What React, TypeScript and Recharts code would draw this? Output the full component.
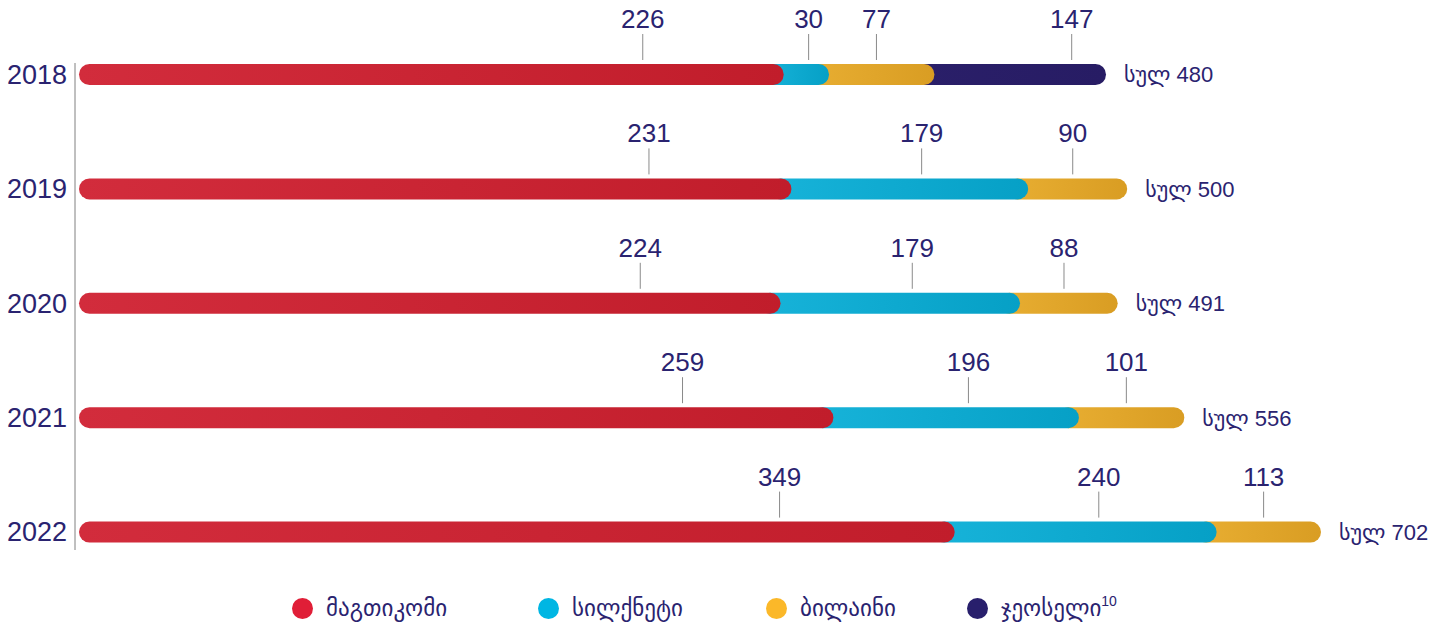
import React from 'react';
import { BarChart, Bar, XAxis, YAxis, Legend } from 'recharts';

// ---- data ----
const years = ['2018', '2019', '2020', '2021', '2022'];
const magticom = [226, 231, 224, 259, 349];
const silknet = [30, 179, 179, 196, 240];
const beeline = [77, 90, 88, 101, 113];
const geocell: (number | null)[] = [147, null, null, null, null];
const totals = [480, 500, 491, 556, 702];
const seriesKeys = ['magticom', 'silknet', 'beeline', 'geocell'];
const seriesNames = ['მაგთიკომი', 'სილქნეტი', 'ბილაინი', 'ჯეოსელი'];
const seriesNotes = ['', '', '', '10'];
const totalPrefix = 'სულ';

const seriesValues = [magticom, silknet, beeline, geocell];

const data = years.map((year, i) => ({
  year,
  magticom: magticom[i],
  silknet: silknet[i],
  beeline: beeline[i],
  geocell: geocell[i],
  total: totals[i],
}));

// ---- style ----
const FONT = "'Liberation Sans', Arial, Helvetica, 'DejaVu Sans', sans-serif";
const NAVY = '#2a2370';
const gradStops = [
  ['#d22c3c', '#c11d2b'],
  ['#17b3d9', '#06a0c6'],
  ['#e8ae32', '#d99d23'],
  ['#2a1f69', '#271c64'],
];
const legendColors = ['#e01e37', '#00b6e3', '#fbb829', '#281f6c'];
const labelFrac = [0.8, 0.55, 0.45, 0.8];
const legendItemWidths = [246, 228, 201, 170];

const lastSeriesIndex = (row: number) => {
  let last = 0;
  seriesValues.forEach((vals, si) => {
    if (vals[row] != null) last = si;
  });
  return last;
};

const makeShape = (si: number) => (props: any) => {
  const { x, y, width, height, index } = props;
  const value = seriesValues[si][index];
  if (value == null || !(width > 0)) return <g />;
  const r = height / 2;
  const x0 = si === 0 ? x : x - 2 * r;
  const w = x + width - x0;
  const lx = x + width * labelFrac[si];
  const isLast = lastSeriesIndex(index) === si;
  return (
    <g>
      <rect x={x0} y={y} width={w} height={height} rx={r} ry={r} fill={`url(#seg-grad-${si})`} />
      <line x1={lx} x2={lx} y1={y - 30} y2={y - 4} stroke="#8a8a8a" strokeWidth={1} />
      <text x={lx} y={y - 36} textAnchor="middle" fill={NAVY} fontSize={26} fontFamily={FONT}>
        {value}
      </text>
      {isLast && (
        <text
          x={x + width + 18}
          y={y + r}
          dy="0.36em"
          textAnchor="start"
          fill={NAVY}
          fontSize={22}
          fontFamily={FONT}
        >
          {`${totalPrefix} ${totals[index]}`}
        </text>
      )}
    </g>
  );
};

const LegendContent = () => (
  <div
    style={{
      height: 36,
      boxSizing: 'border-box',
      paddingTop: 9,
      paddingLeft: 292,
      display: 'flex',
      alignItems: 'flex-start',
      fontFamily: FONT,
      color: NAVY,
    }}
  >
    {seriesNames.map((name, i) => (
      <div
        key={name}
        style={{ width: legendItemWidths[i], display: 'flex', alignItems: 'center', height: 21, flex: 'none' }}
      >
        <span
          style={{
            width: 21,
            height: 21,
            borderRadius: '50%',
            background: legendColors[i],
            display: 'inline-block',
            marginRight: 13,
            flex: 'none',
          }}
        />
        <span style={{ fontSize: 23, whiteSpace: 'nowrap', lineHeight: '21px' }}>
          {name}
          {seriesNotes[i] && (
            <sup style={{ fontSize: 14, verticalAlign: 'top', position: 'relative', top: -7 }}>{seriesNotes[i]}</sup>
          )}
        </span>
      </div>
    ))}
  </div>
);

export default function App() {
  return (
    <div style={{ position: 'absolute', left: 0, top: 0, width: 1438, height: 625, background: '#fff' }}>
      <BarChart
        width={1438}
        height={625}
        data={data}
        layout="vertical"
        margin={{ top: 17, right: 117, bottom: 0, left: 0 }}
        barSize={21}
        reverseStackOrder
      >
        <defs>
          {gradStops.map((s, i) => (
            <linearGradient key={i} id={`seg-grad-${i}`} x1="0" y1="0" x2="1" y2="0">
              <stop offset="0%" stopColor={s[0]} />
              <stop offset="100%" stopColor={s[1]} />
            </linearGradient>
          ))}
        </defs>
        <XAxis type="number" hide scale="sqrt" domain={[0, 'dataMax']} padding={{ left: 4, right: 0 }} />
        <YAxis
          type="category"
          dataKey="year"
          width={75}
          tickLine={false}
          axisLine={{ stroke: '#808080', strokeWidth: 1, strokeDasharray: '0 46 487 1000' }}
          tick={{ fill: NAVY, fontSize: 27, fontFamily: FONT }}
        />
        <Legend verticalAlign="bottom" align="left" content={<LegendContent />} wrapperStyle={{ width: 1438 }} />
        {[3, 2, 1, 0].map((si) => (
          <Bar
            key={seriesKeys[si]}
            dataKey={seriesKeys[si]}
            name={seriesNames[si]}
            stackId="a"
            shape={makeShape(si)}
            isAnimationActive={false}
          />
        ))}
      </BarChart>
    </div>
  );
}
